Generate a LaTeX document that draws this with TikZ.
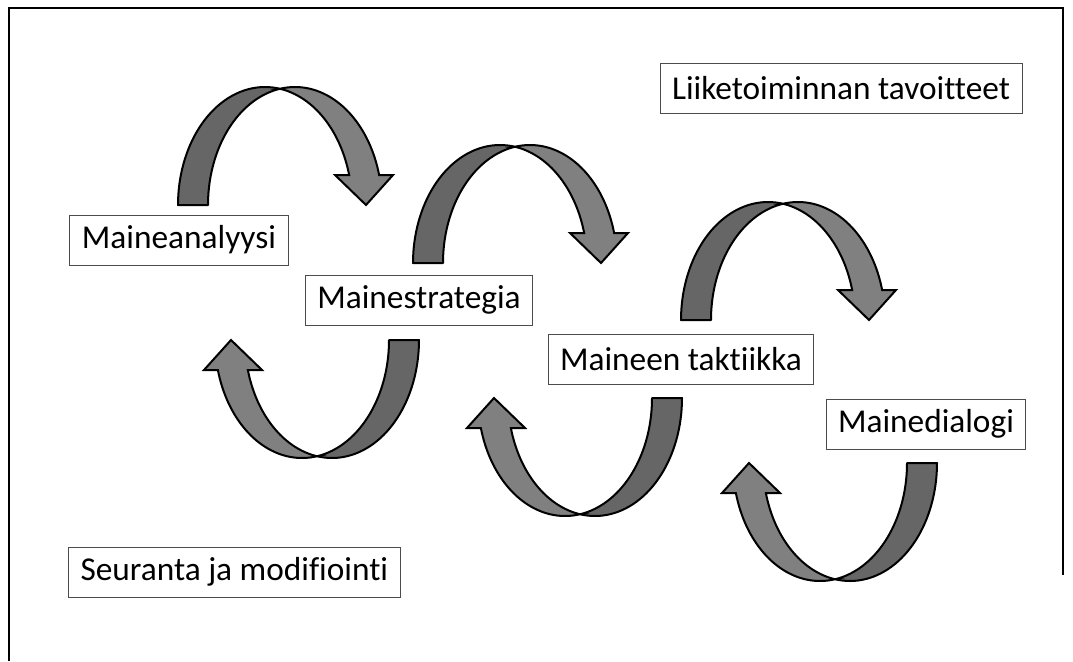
\documentclass[tikz,border=0pt]{standalone}
\usepackage{fontspec}
\setmainfont{Carlito}[Ligatures={NoCommon}]
\begin{document}
\begin{tikzpicture}[x=0.75pt, y=-0.75pt,
    label box/.style={draw=black!70, line width=0.75pt, fill=white, inner xsep=9pt, inner ysep=0pt, minimum height=37.5pt, font=\fontsize{25}{30}\selectfont},
    tail part/.style={fill=black!60, draw=black, line width=1.5pt, line join=round},
    head part/.style={fill=black!50, draw=black, line width=1.5pt, line join=miter},
    curvarrow/.pic={
        \filldraw[tail part] plot[domain=180:80.07, samples=40] ({-15+87*cos(\x)}, {-118*sin(\x)})
            -- plot[domain=99.93:180, samples=40] ({15+87*cos(\x)}, {-118*sin(\x)}) -- cycle;
        \filldraw[head part] plot[domain=99.93:14.73, samples=40] ({15+87*cos(\x)}, {-118*sin(\x)})
            -- (113,-30) -- (86,0) -- (55,-30)
            -- plot[domain=14.73:80.07, samples=40] ({-15+87*cos(\x)}, {-118*sin(\x)}) -- cycle;
    }
]
\useasboundingbox (0,0) rectangle (1073,661);
\draw[line width=1.5pt] (9,661) -- (9,8) -- (1063,8) -- (1063,575);

\node[label box] (tavoitteet) at (841,88) {Liiketoiminnan tavoitteet};
\node[label box] (analyysi) at (179,240) {Maineanalyysi};
\node[label box] (strategia) at (419,300) {Mainestrategia};
\node[label box] (taktiikka) at (681,359) {Maineen taktiikka};
\node[label box] (dialogi) at (926,424) {Mainedialogi};
\node[label box, anchor=west] (seuranta) at (68,572) {Seuranta ja modifiointi};

% upper arcs
\pic at (280,205) {curvarrow};
\pic at (515,263) {curvarrow};
\pic at (783,320) {curvarrow};
% lower arcs
\pic[rotate=180] at (317,340) {curvarrow};
\pic[rotate=180] at (580,398) {curvarrow};
\pic[rotate=180] at (835,463) {curvarrow};
\end{tikzpicture}
\end{document}
